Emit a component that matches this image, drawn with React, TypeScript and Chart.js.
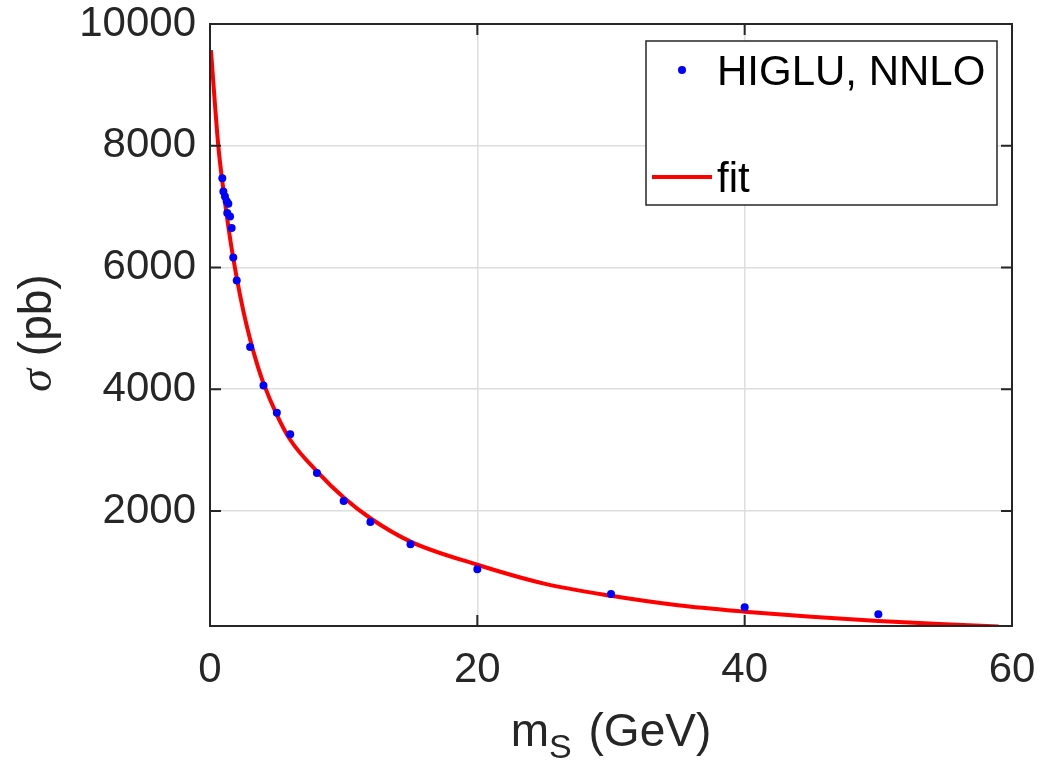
import React, { useEffect, useRef } from "react";
import { Chart, registerables } from "chart.js";

Chart.register(...registerables);

// HIGLU NNLO cross-section points (m_S in GeV, sigma in pb)
const massPoints = [0.92, 1.0, 1.12, 1.25, 1.37, 1.29, 1.5, 1.62, 1.74, 2.0, 3, 4, 5, 6, 8, 10, 12, 15, 20, 30, 40, 50];
const sigmaPoints = [7464, 7250, 7168, 7086, 7048, 6895, 6839, 6648, 6165, 5787, 4692, 4061, 3612, 3262, 2625, 2165, 1820, 1453, 1042, 636, 418, 302];

// fit curve
const fitMass = [0.07, 0.62, 1.0, 1.5, 2.0, 2.5, 3.0, 3.5, 4.0, 5.0, 6.0, 8.0, 10, 12, 15, 20, 25, 30, 35, 40, 45, 50, 55, 59];
const fitSigma = [9570, 8000, 7280, 6480, 5830, 5280, 4820, 4430, 4100, 3580, 3170, 2650, 2220, 1880, 1496, 1116, 806, 606, 451, 346, 261, 193, 138, 100];

const xTicks = [0, 20, 40, 60];
const yTicks = [2000, 4000, 6000, 8000, 10000];

const legendLabels = ["HIGLU, NNLO", "fit"];
const xTitleMain = "m";
const xTitleSub = "S";
const xTitleRest = " (GeV)";
const yTitleSym = "σ";
const yTitleRest = " (pb)";

const SANS = "'Liberation Sans', Arial, sans-serif";
const SERIF = "'Liberation Serif', 'Times New Roman', serif";
const AXIS_COLOR = "#262626";
const BLUE = "#0000ff";
const RED = "#ff0000";

const framePlugin = {
  id: "matlabFrame",
  afterDraw(chart: any) {
    const { ctx, chartArea: a, scales } = chart;
    ctx.save();
    // box
    ctx.strokeStyle = AXIS_COLOR;
    ctx.lineWidth = 2;
    ctx.strokeRect(a.left, a.top, a.right - a.left, a.bottom - a.top);
    // inward ticks on all sides
    const tl = 11;
    ctx.beginPath();
    xTicks.forEach((v) => {
      const px = scales.x.getPixelForValue(v);
      ctx.moveTo(px, a.bottom);
      ctx.lineTo(px, a.bottom - tl);
      ctx.moveTo(px, a.top);
      ctx.lineTo(px, a.top + tl);
    });
    yTicks.forEach((v) => {
      const py = scales.y.getPixelForValue(v);
      ctx.moveTo(a.left, py);
      ctx.lineTo(a.left + tl, py);
      ctx.moveTo(a.right, py);
      ctx.lineTo(a.right - tl, py);
    });
    ctx.stroke();

    // legend box
    const lx = 646, ly = 41, lw = 351, lh = 164;
    ctx.fillStyle = "#ffffff";
    ctx.fillRect(lx, ly, lw, lh);
    ctx.lineWidth = 1.5;
    ctx.strokeStyle = AXIS_COLOR;
    ctx.strokeRect(lx, ly, lw, lh);
    // entry 1: marker
    ctx.fillStyle = BLUE;
    ctx.beginPath();
    ctx.arc(682, 70, 4, 0, Math.PI * 2);
    ctx.fill();
    ctx.fillStyle = "#000000";
    ctx.font = `42px ${SANS}`;
    ctx.textBaseline = "alphabetic";
    ctx.textAlign = "left";
    ctx.fillText(legendLabels[0], 717, 85);
    // entry 2: line
    ctx.strokeStyle = RED;
    ctx.lineWidth = 4;
    ctx.beginPath();
    ctx.moveTo(652, 177);
    ctx.lineTo(712, 177);
    ctx.stroke();
    ctx.fillText(legendLabels[1], 717, 192);

    // x title with subscript
    ctx.fillStyle = AXIS_COLOR;
    const mainFont = `46px ${SANS}`;
    const subFont = `34px ${SANS}`;
    const gap = 4;
    ctx.font = mainFont;
    const wM = ctx.measureText(xTitleMain).width;
    const wR = ctx.measureText(xTitleRest).width;
    ctx.font = subFont;
    const wS = ctx.measureText(xTitleSub).width;
    const total = wM + wS + gap + wR;
    const cx = (a.left + a.right) / 2;
    let sx = cx - total / 2;
    const base = 746;
    ctx.font = mainFont;
    ctx.fillText(xTitleMain, sx, base);
    sx += wM;
    ctx.font = subFont;
    ctx.fillText(xTitleSub, sx, base + 12);
    sx += wS + gap;
    ctx.font = mainFont;
    ctx.fillText(xTitleRest, sx, base);

    // y title rotated
    ctx.save();
    ctx.translate(51, 333);
    ctx.rotate(-Math.PI / 2);
    const symFont = `italic 46px ${SERIF}`;
    ctx.font = symFont;
    const wSym = ctx.measureText(yTitleSym).width;
    ctx.font = mainFont;
    const wRest = ctx.measureText(yTitleRest).width;
    let tx = -(wSym + wRest) / 2;
    ctx.font = symFont;
    ctx.fillText(yTitleSym, tx, 0);
    tx += wSym;
    ctx.font = mainFont;
    ctx.fillText(yTitleRest, tx, 0);
    ctx.restore();

    ctx.restore();
  },
};

export default function App() {
  const canvasRef = useRef<HTMLCanvasElement | null>(null);

  useEffect(() => {
    const canvas = canvasRef.current;
    if (!canvas) return;
    const scatterData = massPoints.map((m, i) => ({ x: m, y: sigmaPoints[i] }));
    const fitData = fitMass.map((m, i) => ({ x: m, y: fitSigma[i] }));
    const tickFont = { family: SANS, size: 42 };
    const chart = new Chart(canvas, {
      type: "scatter",
      data: {
        datasets: [
          {
            label: legendLabels[0],
            data: scatterData,
            pointRadius: 4,
            pointBackgroundColor: BLUE,
            pointBorderWidth: 0,
            showLine: false,
          },
          {
            label: legendLabels[1],
            data: fitData,
            showLine: true,
            borderColor: RED,
            borderWidth: 4,
            pointRadius: 0,
            cubicInterpolationMode: "monotone",
            fill: false,
          },
        ],
      },
      options: {
        animation: false,
        responsive: false,
        devicePixelRatio: 1,
        layout: { padding: { top: 24, right: 28, left: 0, bottom: 0 } },
        plugins: { legend: { display: false }, tooltip: { enabled: false } },
        scales: {
          x: {
            type: "linear",
            min: 0,
            max: 60,
            afterBuildTicks: (s: any) => {
              s.ticks = xTicks.map((v) => ({ value: v }));
            },
            afterFit: (s: any) => {
              s.height = 146;
              s.paddingLeft = 0;
              s.paddingRight = 0;
            },
            grid: { color: "#dedede", lineWidth: 1.5, drawTicks: false },
            border: { display: false },
            ticks: {
              font: tickFont,
              color: AXIS_COLOR,
              padding: 19,
              maxRotation: 0,
              autoSkip: false,
              callback: (v: any) => String(v),
            },
          },
          y: {
            type: "linear",
            min: 110,
            max: 10000,
            afterBuildTicks: (s: any) => {
              s.ticks = yTicks.map((v) => ({ value: v }));
            },
            afterFit: (s: any) => {
              s.width = 210;
              s.paddingTop = 0;
              s.paddingBottom = 0;
            },
            grid: { color: "#dedede", lineWidth: 1.5, drawTicks: false },
            border: { display: false },
            ticks: {
              font: tickFont,
              color: AXIS_COLOR,
              padding: 14,
              autoSkip: false,
              callback: (v: any) => String(v),
            },
          },
        },
      },
      plugins: [framePlugin],
    });
    return () => chart.destroy();
  }, []);

  return (
    <div style={{ position: "fixed", left: 0, top: 0, width: 1040, height: 772, background: "#ffffff" }}>
      <canvas ref={canvasRef} width={1040} height={772} style={{ display: "block" }} />
    </div>
  );
}
